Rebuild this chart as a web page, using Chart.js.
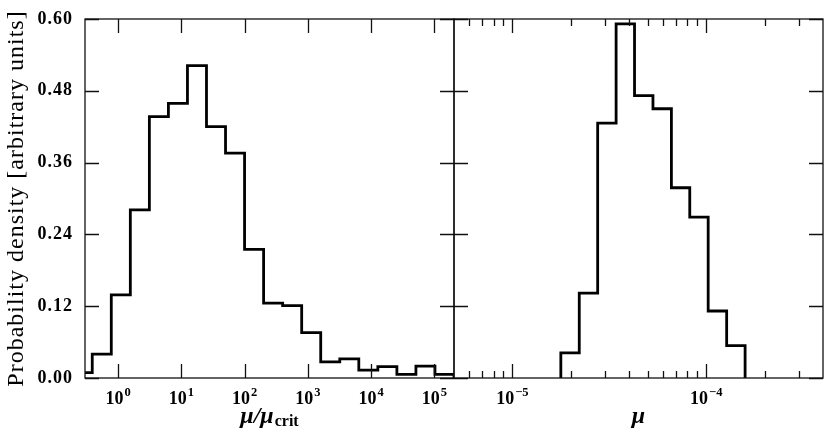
<!DOCTYPE html>
<html><head><meta charset="utf-8">
<script src="https://cdn.jsdelivr.net/npm/chart.js@4/dist/chart.umd.min.js"></script>
<style>
html,body{margin:0;padding:0;background:#fff;}
#wrap{position:relative;width:830px;height:438px;overflow:hidden;}
canvas{position:absolute;top:0;}
</style></head>
<body><div id="wrap">
<canvas id="left" width="460" height="438" style="left:0"></canvas>
<canvas id="right" width="390" height="438" style="left:440px"></canvas>
</div>
<script>
// ---- data ----
const leftEdges = [0.1953125, 0.390625, 0.78125, 1.5625, 3.125, 6.25, 12.5, 25, 50, 100, 200, 400, 800, 1600, 3200, 6400, 12800, 25600, 51200, 102400, 204800];
const leftDensity = [0.009, 0.040, 0.139, 0.281, 0.437, 0.459, 0.522, 0.420, 0.376, 0.215, 0.125, 0.121, 0.076, 0.027, 0.032, 0.013, 0.019, 0.006, 0.020, 0.006];
const rightEdges = [1.778e-5, 2.213e-5, 2.754e-5, 3.428e-5, 4.266e-5, 5.31e-5, 6.61e-5, 8.22e-5, 1.023e-4, 1.274e-4, 1.586e-4];
const rightDensity = [0.042, 0.142, 0.426, 0.592, 0.472, 0.450, 0.318, 0.269, 0.112, 0.054];
const yTicks = [0, 0.12, 0.24, 0.36, 0.48, 0.60];
const leftMajorTicks = [1, 10, 100, 1000, 10000, 100000];
const leftTickExponents = ['0', '1', '2', '3', '4', '5'];
const rightMajorTicks = [1e-5, 1e-4];
const rightTickExponents = ['−5', '−4'];
const rightMinorTicks = [6e-6, 7e-6, 8e-6, 9e-6, 2e-5, 3e-5, 4e-5, 5e-5, 6e-5, 7e-5, 8e-5, 9e-5, 2e-4, 3e-4];
const yTitle = 'Probability density [arbitrary units]';

function stepPoints(edges, vals) {
  const pts = [{x: edges[0], y: 0}];
  for (let i = 0; i < vals.length; i++) {
    pts.push({x: edges[i], y: vals[i]});
    pts.push({x: edges[i + 1], y: vals[i]});
  }
  pts.push({x: edges[edges.length - 1], y: 0});
  return pts;
}

const INK = '#000';
const SERIF = '"Liberation Serif", serif';
const TICKFONT = {family: SERIF, size: 18, weight: 'bold'};

function framePlugin(cfg) {
  return {
    id: 'frameTicks',
    beforeDraw(chart) { chart.ctx.letterSpacing = '1px'; },
    afterDraw(chart) {
      const ctx = chart.ctx, a = chart.chartArea, x = chart.scales.x, y = chart.scales.y;
      ctx.letterSpacing = '0px';
      ctx.save();
      ctx.strokeStyle = '#111';
      ctx.lineWidth = 1.3;
      ctx.beginPath();
      const MAJ = 14, MIN = 7;
      for (const v of cfg.major) {
        const px = Math.round(x.getPixelForValue(v)) + 0.5;
        ctx.moveTo(px, a.bottom); ctx.lineTo(px, a.bottom - MAJ);
        ctx.moveTo(px, a.top); ctx.lineTo(px, a.top + MAJ);
      }
      for (const v of cfg.minor) {
        const px = Math.round(x.getPixelForValue(v)) + 0.5;
        ctx.moveTo(px, a.bottom); ctx.lineTo(px, a.bottom - MIN);
        ctx.moveTo(px, a.top); ctx.lineTo(px, a.top + MIN);
      }
      for (const v of yTicks) {
        const py = Math.round(y.getPixelForValue(v)) + 0.5;
        ctx.moveTo(a.left, py); ctx.lineTo(a.left + MAJ, py);
        ctx.moveTo(a.right, py); ctx.lineTo(a.right - MAJ, py);
      }
      ctx.stroke();
      ctx.strokeRect(a.left, a.top, a.right - a.left, a.bottom - a.top);

      ctx.fillStyle = INK;
      ctx.textBaseline = 'alphabetic';
      ctx.textAlign = 'left';
      // x tick labels: 10 with raised exponent
      const baseFont = 'bold 18px ' + SERIF, expFont = 'bold 12.5px ' + SERIF;
      cfg.major.forEach((v, i) => {
        const px = x.getPixelForValue(v);
        ctx.font = baseFont;
        const wb = ctx.measureText('10').width;
        ctx.font = expFont;
        const we = ctx.measureText(cfg.exps[i]).width;
        const sx = px - (wb + we + 1) / 2;
        ctx.font = baseFont; ctx.fillText('10', sx, 404);
        ctx.font = expFont; ctx.fillText(cfg.exps[i], sx + wb + 1, 396);
      });
      // x-axis title
      const cx = (a.left + a.right) / 2;
      const base = 423;
      const mainFont = 'italic bold 24px ' + SERIF;
      const subFont = 'bold 16px ' + SERIF;
      ctx.font = mainFont;
      const w1 = ctx.measureText(cfg.title).width;
      let w2 = 0;
      if (cfg.sub) { ctx.font = subFont; w2 = ctx.measureText(cfg.sub).width + 1; }
      const sx = cx - (w1 + w2) / 2;
      ctx.font = mainFont;
      ctx.fillText(cfg.title, sx, base);
      if (cfg.sub) { ctx.font = subFont; ctx.fillText(cfg.sub, sx + w1 + 1, base + 3); }
      ctx.restore();
    }
  };
}

function makeChart(id, opts) {
  return new Chart(document.getElementById(id), {
    type: 'line',
    data: {datasets: [{
      data: stepPoints(opts.edges, opts.vals),
      borderColor: INK, borderWidth: 2.8, pointRadius: 0, tension: 0,
      fill: false, clip: 0, borderJoinStyle: 'miter', borderCapStyle: 'butt'
    }]},
    options: {
      responsive: false, animation: false, devicePixelRatio: 1,
      layout: {padding: opts.padding},
      plugins: {legend: {display: false}, tooltip: {enabled: false}},
      scales: {
        x: {
          type: 'logarithmic', min: opts.xmin, max: opts.xmax,
          grid: {display: false, drawTicks: false}, border: {display: false},
          afterBuildTicks: s => { s.ticks = opts.major.map(v => ({value: v})); },
          afterFit: s => { s.height = 60; s.paddingLeft = 0; s.paddingRight = 0; },
          ticks: {display: false, autoSkip: false, maxRotation: 0, minRotation: 0}
        },
        y: {
          type: 'linear', min: 0, max: 0.6, display: opts.showY,
          grid: {display: false, drawTicks: false}, border: {display: false},
          afterBuildTicks: s => { s.ticks = yTicks.map(v => ({value: v})); },
          afterFit: s => { s.width = opts.showY ? 85 : 0; s.paddingTop = 0; s.paddingBottom = 0; },
          ticks: {padding: 12, color: INK, font: TICKFONT, callback: v => Number(v).toFixed(2)},
          title: {display: opts.showY, text: yTitle, color: INK, padding: {top: 2, bottom: 0},
                  font: {family: SERIF, size: 24, weight: 'normal'}}
        }
      }
    },
    plugins: [framePlugin({major: opts.major, minor: opts.minor, exps: opts.exps, title: opts.title, sub: opts.sub})]
  });
}

makeChart('left', {
  edges: leftEdges, vals: leftDensity, xmin: 0.31, xmax: 204800,
  major: leftMajorTicks, minor: [], exps: leftTickExponents,
  padding: {top: 19, right: 6, left: 0, bottom: 0}, showY: true,
  title: 'μ/μ', sub: 'crit'
});
makeChart('right', {
  edges: rightEdges, vals: rightDensity, xmin: 5e-6, xmax: 4e-4,
  major: rightMajorTicks, minor: rightMinorTicks, exps: rightTickExponents,
  padding: {top: 19, right: 7, left: 14, bottom: 0}, showY: false,
  title: 'μ', sub: ''
});
</script>
</body></html>
